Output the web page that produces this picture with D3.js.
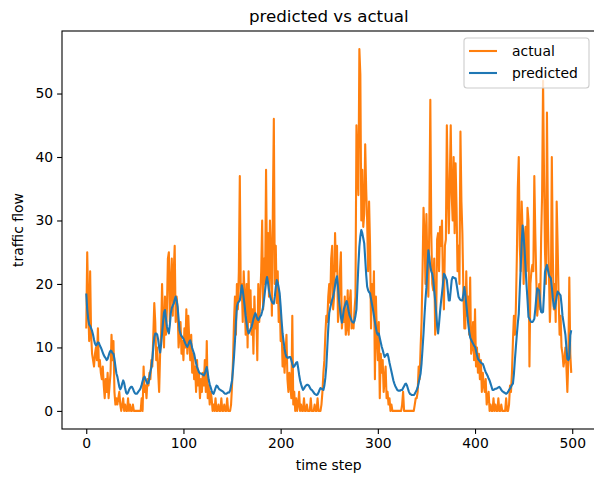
<!DOCTYPE html>
<html>
<head>
<meta charset="utf-8">
<script src="https://cdn.jsdelivr.net/npm/d3@7"></script>
<style>
  body { margin: 0; background: #fff; }
  text { font-family: "DejaVu Sans", sans-serif; fill: #000; }
</style>
</head>
<body>
<script>
// values, one per time step
var actual = [
  13, 25, 17, 11, 22, 12, 9, 8, 7, 9,
  10, 8, 13, 7, 8, 6, 5, 7, 4, 2,
  5, 3, 6, 2, 4, 6, 12, 8, 11, 3,
  1, 2, 1, 2, 3, 1, 0, 1, 2, 0,
  1, 0, 0, 2, 0, 1, 0, 0, 1, 0,
  0, 0, 0, 0, 0, 0, 0, 2, 0, 7,
  3, 4, 2, 5, 4, 6, 5, 8, 7, 12,
  17, 14, 8, 10, 6, 3, 9, 12, 20, 14,
  10, 18, 12, 16, 24, 25, 14, 20, 24, 15,
  22, 26, 14, 18, 16, 10, 12, 14, 9, 11,
  8, 13, 10, 16, 9, 15, 11, 8, 12, 6,
  9, 5, 7, 3, 8, 4, 6, 2, 5, 3,
  6, 4, 8, 3, 11, 2, 4, 1, 3, 2,
  0, 1, 0, 2, 0, 0, 1, 0, 0, 2,
  0, 0, 1, 0, 0, 2, 0, 0, 0, 1,
  4, 8, 14, 18, 12, 20, 16, 22, 37, 18,
  20, 14, 22, 18, 12, 20, 10, 22, 14, 19,
  12, 16, 9, 18, 13, 15, 8, 20, 14, 18,
  22, 30, 16, 24, 20, 38, 21, 28, 18, 30,
  25, 15, 32, 46, 20, 26, 17, 22, 14, 18,
  11, 13, 7, 10, 6, 9, 12, 5, 3, 6,
  4, 2, 15, 1, 3, 0, 2, 0, 1, 3,
  0, 1, 0, 0, 2, 0, 0, 1, 0, 0,
  0, 2, 0, 0, 0, 1, 0, 0, 2, 0,
  0, 0, 1, 3, 6, 8, 12, 15, 14, 18,
  20, 17, 24, 26, 16, 18, 28, 22, 26, 14,
  16, 22, 25, 13, 15, 14, 18, 12, 13, 19,
  12, 17, 19, 13, 14, 13, 16, 18, 45, 39,
  34, 57, 53, 30, 38, 29, 31, 42, 35, 30,
  22, 33, 26, 13, 20, 16, 22, 5, 18, 12,
  8, 14, 2, 9, 6, 8, 3, 5, 7, 2,
  3, 1, 2, 0, 1, 0, 0, 0, 0, 0,
  0, 0, 0, 0, 0, 1, 3, 0, 0, 0,
  0, 0, 0, 0, 0, 0, 0, 0, 1, 2,
  2, 3, 7, 5, 10, 14, 22, 32, 28, 20,
  31, 23, 18, 30, 49, 28, 20, 19, 24, 12,
  14, 27, 28, 22, 29, 26, 30, 20, 16, 26,
  27, 45, 35, 28, 36, 45, 34, 30, 40, 28,
  39, 32, 22, 26, 20, 44, 33, 28, 19, 13,
  13, 22, 15, 18, 12, 21, 9, 10, 14, 8,
  16, 7, 10, 6, 9, 5, 8, 3, 6, 4,
  3, 5, 1, 2, 3, 0, 1, 0, 0, 2,
  0, 1, 0, 0, 2, 0, 0, 1, 0, 0,
  0, 0, 2, 0, 0, 1, 4, 3, 6, 11,
  15, 12, 16, 24, 35, 40, 26, 22, 33, 28,
  20, 27, 29, 22, 32, 30, 7, 20, 22, 23,
  22, 37, 28, 21, 15, 17, 20, 16, 27, 34,
  52, 37, 25, 20, 47, 30, 22, 14, 18, 40,
  25, 16, 20, 14, 33, 26, 18, 12, 15, 10,
  9, 7, 8, 10, 7, 3, 8, 21, 9, 6
];

var predicted = [
  18.5, 16.0, 14.5, 13.6, 13.4, 13.0, 12.6, 12.0, 11.2, 10.6,
  10.3, 10.5, 10.8, 10.7, 10.3, 10.0, 9.6, 9.2, 8.8, 8.5,
  8.3, 8.0, 8.2, 8.7, 9.2, 9.5, 9.4, 9.1, 9.0, 8.2,
  7.0, 5.9, 5.4, 4.6, 3.8, 3.4, 3.7, 4.3, 4.8, 4.4,
  3.6, 2.9, 2.7, 2.9, 3.3, 3.6, 3.8, 3.8, 3.5, 3.1,
  2.8, 2.7, 2.7, 2.9, 3.1, 3.3, 3.6, 4.1, 4.7, 5.2,
  5.4, 5.0, 4.6, 4.3, 4.4, 5.2, 6.2, 6.8, 8.2, 10.0,
  11.6, 12.2, 12.2, 12.0, 11.2, 10.0, 9.2, 10.5, 12.2, 14.0,
  15.5, 15.9, 14.5, 13.3, 12.6, 12.2, 13.5, 15.4, 16.2, 16.6,
  16.9, 17.5, 18.0, 17.4, 16.4, 14.5, 12.7, 12.1, 11.8, 11.6,
  11.4, 11.0, 10.6, 10.3, 10.1, 10.4, 10.9, 11.1, 10.6, 9.9,
  9.4, 9.0, 8.2, 7.5, 6.9, 6.5, 6.1, 5.9, 5.9, 5.8,
  5.7, 5.6, 5.9, 6.4, 6.9, 6.0, 4.9, 4.2, 3.7, 3.2,
  2.8, 2.7, 3.1, 3.6, 4.0, 3.9, 3.6, 3.4, 3.3, 3.2,
  3.1, 3.0, 2.8, 2.7, 2.7, 2.8, 2.9, 2.9, 3.2, 4.0,
  4.8, 6.5, 8.5, 11.0, 14.0, 16.4, 17.0, 17.2, 17.4, 18.5,
  19.8, 19.0, 17.8, 16.5, 15.0, 13.8, 12.8, 12.2, 12.5, 12.9,
  13.2, 13.8, 14.5, 15.0, 15.4, 15.0, 14.5, 14.3, 14.6, 14.9,
  15.1, 15.7, 16.4, 17.6, 19.0, 20.3, 21.1, 20.2, 19.0, 18.2,
  17.6, 17.2, 17.0, 16.9, 18.0, 19.5, 20.6, 20.2, 19.4, 18.5,
  16.5, 14.2, 12.2, 11.0, 9.8, 9.0, 8.5, 8.4, 8.4, 8.5,
  8.5, 8.0, 7.4, 6.9, 7.0, 7.3, 7.6, 7.7, 6.8, 5.7,
  4.8, 4.2, 3.7, 3.3, 3.5, 3.8, 4.0, 4.1, 4.1, 4.0,
  3.7, 3.4, 3.3, 3.1, 2.9, 2.7, 2.6, 2.5, 2.6, 2.9,
  3.3, 3.6, 3.5, 3.4, 3.3, 4.0, 5.2, 7.0, 10.0, 13.0,
  15.4, 16.2, 16.9, 17.5, 18.0, 18.8, 19.8, 20.7, 21.2, 19.5,
  17.6, 16.2, 14.8, 13.9, 14.8, 16.0, 16.5, 17.0, 17.3, 16.6,
  15.7, 15.0, 14.6, 14.2, 14.0, 13.9, 14.2, 15.0, 16.0, 19.5,
  23.0, 25.9, 27.5, 28.5, 28.0, 27.2, 26.4, 24.0, 21.5, 19.6,
  19.0, 18.7, 18.5, 17.6, 16.8, 16.0, 15.0, 14.0, 13.1, 12.3,
  12.0, 12.2, 11.5, 10.8, 10.1, 9.6, 9.0, 8.5, 8.7, 8.9,
  9.0, 8.4, 7.6, 6.9, 6.2, 5.5, 4.8, 4.3, 3.9, 3.6,
  3.3, 3.2, 3.2, 3.2, 3.3, 3.3, 3.6, 3.9, 4.2, 4.3,
  4.0, 3.5, 3.0, 2.7, 2.6, 2.5, 2.5, 2.5, 2.7, 3.0,
  3.3, 3.7, 4.4, 5.2, 5.9, 7.5, 9.8, 12.2, 15.0, 17.5,
  19.5, 22.5, 25.3, 24.2, 22.7, 22.0, 21.6, 20.6, 19.0, 17.4,
  15.5, 13.5, 12.2, 13.8, 15.6, 17.2, 18.5, 20.0, 21.6, 21.4,
  21.0, 20.6, 19.0, 17.4, 17.4, 19.0, 20.6, 21.1, 21.0, 20.9,
  20.9, 20.0, 19.0, 18.0, 17.7, 17.5, 17.4, 17.4, 18.4, 19.5,
  18.3, 16.8, 15.3, 13.8, 12.5, 11.6, 11.2, 10.9, 10.6, 10.3,
  10.1, 9.5, 8.8, 8.2, 8.0, 7.8, 7.6, 7.5, 7.4, 7.0,
  6.5, 6.1, 5.8, 5.5, 5.1, 4.8, 4.3, 3.8, 3.3, 3.3,
  3.4, 3.5, 3.5, 3.6, 3.7, 3.8, 3.6, 3.3, 3.1, 3.0,
  2.9, 2.8, 2.7, 2.8, 3.0, 3.3, 3.5, 3.8, 4.1, 4.3,
  5.8, 8.0, 10.0, 12.0, 13.8, 15.3, 19.0, 22.6, 26.5, 29.2,
  27.5, 25.3, 22.5, 19.8, 17.5, 14.8, 14.5, 14.2, 14.0, 14.0,
  14.2, 14.5, 16.0, 17.8, 19.3, 19.1, 19.0, 17.2, 15.6, 15.5,
  15.6, 18.5, 21.9, 22.5, 23.0, 22.2, 21.4, 21.1, 20.9, 19.5,
  17.8, 16.5, 16.1, 17.0, 18.0, 18.8, 18.6, 18.4, 18.2, 16.8,
  15.0, 14.0, 13.0, 12.0, 10.0, 8.2, 8.0, 8.3, 11.9, 12.7
];

var xTicks = [0, 100, 200, 300, 400, 500];
var yTicks = [0, 10, 20, 30, 40, 50];
var seriesNames = ["actual", "predicted"];
var seriesColors = ["#ff7f0e", "#1f77b4"];

var svgWidth = 594;
var svgHeight = 477;

var margin = {
  top: 31,
  right: -1.5,
  bottom: 48,
  left: 62
};

var chartWidth = svgWidth - margin.left - margin.right;
var chartHeight = svgHeight - margin.top - margin.bottom;

var svg = d3.select("body")
  .append("svg")
  .attr("width", svgWidth)
  .attr("height", svgHeight);

var chartGroup = svg.append("g")
  .attr("transform", `translate(${margin.left}, ${margin.top})`);

var steps = d3.range(actual.length);

// matplotlib style 5% padding on both axes
var xExt = d3.extent(steps);
var xPad = (xExt[1] - xExt[0]) * 0.05;
var yExt = d3.extent(actual.concat(predicted));
var yPad = (yExt[1] - yExt[0]) * 0.05;

var xScale = d3.scaleLinear()
  .domain([xExt[0] - xPad, xExt[1] + xPad])
  .range([0, chartWidth]);

var yScale = d3.scaleLinear()
  .domain([yExt[0] - yPad, yExt[1] + yPad])
  .range([chartHeight, 0]);

var line = d3.line()
  .x(function(d, i) { return xScale(i); })
  .y(function(d) { return yScale(d); });

chartGroup.append("path")
  .datum(actual)
  .attr("d", line)
  .attr("fill", "none")
  .attr("stroke", seriesColors[0])
  .attr("stroke-width", 2.1)
  .attr("stroke-linejoin", "round");

chartGroup.append("path")
  .datum(predicted)
  .attr("d", line)
  .attr("fill", "none")
  .attr("stroke", seriesColors[1])
  .attr("stroke-width", 2.1)
  .attr("stroke-linejoin", "round");

var bottomAxis = d3.axisBottom(xScale).tickValues(xTicks).tickSize(4.9).tickPadding(4);
var leftAxis = d3.axisLeft(yScale).tickValues(yTicks).tickSize(4.9).tickPadding(4);

var xAxisG = chartGroup.append("g")
  .attr("transform", `translate(0, ${chartHeight})`)
  .call(bottomAxis);
var yAxisG = chartGroup.append("g")
  .call(leftAxis);

[xAxisG, yAxisG].forEach(function(g) {
  g.select(".domain").remove();
  g.selectAll(".tick line").attr("stroke", "#000").attr("stroke-width", 1.1);
  g.selectAll(".tick text")
    .attr("font-family", "DejaVu Sans")
    .attr("font-size", "13.9px")
    .attr("fill", "#000");
});

// frame
chartGroup.append("rect")
  .attr("x", 0)
  .attr("y", 0)
  .attr("width", chartWidth)
  .attr("height", chartHeight)
  .attr("fill", "none")
  .attr("stroke", "#000")
  .attr("stroke-width", 1.1);

// title and axis labels
svg.append("text")
  .attr("x", margin.left + chartWidth / 2)
  .attr("y", 22)
  .attr("text-anchor", "middle")
  .attr("font-size", "16.7px")
  .text("predicted vs actual");

svg.append("text")
  .attr("x", margin.left + chartWidth / 2)
  .attr("y", 470)
  .attr("text-anchor", "middle")
  .attr("font-size", "13.9px")
  .text("time step");

svg.append("text")
  .attr("transform", `translate(23, ${margin.top + chartHeight / 2}) rotate(-90)`)
  .attr("text-anchor", "middle")
  .attr("font-size", "13.9px")
  .text("traffic flow");

// legend
var legend = svg.append("g")
  .attr("transform", "translate(464, 38)");

legend.append("rect")
  .attr("width", 125)
  .attr("height", 50)
  .attr("rx", 3)
  .attr("fill", "#fff")
  .attr("fill-opacity", 0.8)
  .attr("stroke", "#ccc")
  .attr("stroke-width", 1.1);

seriesNames.forEach(function(name, i) {
  legend.append("line")
    .attr("x1", 5)
    .attr("x2", 33)
    .attr("y1", 13 + i * 22)
    .attr("y2", 13 + i * 22)
    .attr("stroke", seriesColors[i])
    .attr("stroke-width", 2.1);
  legend.append("text")
    .attr("x", 48)
    .attr("y", 18 + i * 22)
    .attr("font-size", "13.9px")
    .text(name);
});
</script>
</body>
</html>
